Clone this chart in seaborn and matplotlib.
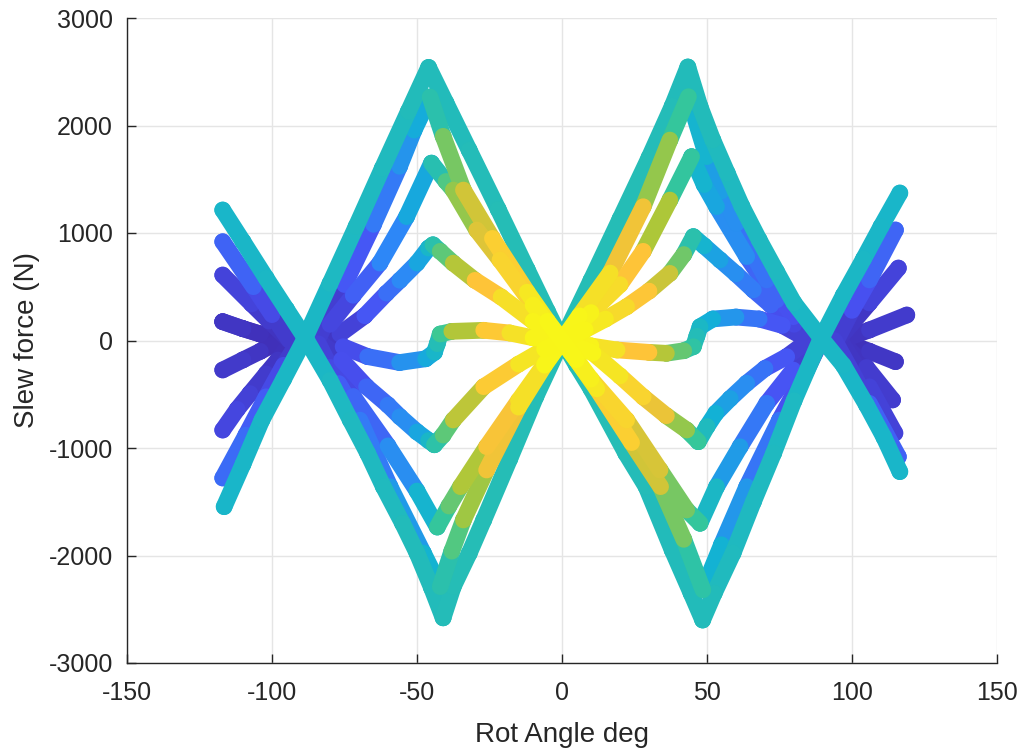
import numpy as np
import pandas as pd
import matplotlib
matplotlib.use("Agg")
import matplotlib.pyplot as plt
import seaborn as sns
from matplotlib.collections import LineCollection
from matplotlib.colors import LinearSegmentedColormap, Normalize

# ---------------- data ----------------
# outer cyan curve, positive peak on the left
cyan_up_x = [-116.5, -110, -103.5, -96, -89, -80, -71, -62, -53, -46,
             -40, -32, -22, -12, -5, 0, 5, 10, 22, 29,
             38, 44.5, 48.5, 52.5, 59, 66, 73, 80, 89, 97,
             104, 110, 116.5]
cyan_up_y = [-1546, -1150, -740, -360, 0, 530, 1060, 1600, 2130, 2540,
             2210, 1770, 1220, 660, 270, 0, -230, -450, -1050, -1360,
             -1950, -2350, -2600, -2350, -1977, -1500, -1047, -560, 0, 420,
             760, 1060, 1372]
cyan_up_c = [0.40, 0.40, 0.41, 0.41, 0.41, 0.41, 0.42, 0.42, 0.43, 0.43,
             0.43, 0.43, 0.44, 0.44, 0.44, 0.44, 0.44, 0.44, 0.44, 0.43,
             0.43, 0.43, 0.43, 0.43, 0.42, 0.42, 0.42, 0.41, 0.41, 0.41,
             0.41, 0.40, 0.40]

# outer cyan curve, negative dip on the left
cyan_dn_x = [-117, -110, -102, -95, -88, -80, -73, -67, -61.6, -55,
             -50, -45, -41, -37.5, -32, -27, -18, -9, 0, 10,
             20, 30, 38, 43.4, 47.6, 52, 57, 62, 68, 74,
             80, 90, 97, 105, 111, 116.5]
cyan_dn_y = [1214, 920, 580, 290, 0, -370, -740, -1050, -1360, -1700,
             -1977, -2300, -2580, -2290, -1980, -1670, -1100, -520, 0, 560,
             1130, 1700, 2180, 2544, 2175, 1865, 1556, 1250, 935, 640,
             349, 0, -230, -600, -900, -1220]
cyan_dn_c = [0.40, 0.40, 0.41, 0.41, 0.41, 0.41, 0.42, 0.42, 0.42, 0.43,
             0.43, 0.43, 0.43, 0.44, 0.44, 0.44, 0.44, 0.44, 0.44, 0.44,
             0.44, 0.44, 0.43, 0.43, 0.43, 0.43, 0.42, 0.42, 0.42, 0.42,
             0.41, 0.41, 0.41, 0.40, 0.40, 0.40]

# level 2 (peaks ~2250)
l2_up_x = [-117, -109, -102, -96, -91, -84, -75, -65, -56, -51,
           -45.5, -41, -34, -24, -12, -5, 0, 5, 12, 24,
           34, 42, 48.6, 55, 63.7, 75, 84.4, 89, 95, 100,
           106, 115]
l2_up_y = [-1279, -880, -523, -230, -20, 20, 520, 1080, 1620, 1957,
           2265, 1900, 1400, 950, 450, 180, 0, -180, -450, -950,
           -1360, -1850, -2320, -1900, -1360, -740, -274, -20, 20, 280,
           563, 1028]
l2_up_c = [0.2, 0.17, 0.13, 0.08, 0.04, 0.04, 0.1, 0.18, 0.26, 0.32,
           0.4, 0.52, 0.62, 0.74, 0.85, 0.95, 1.0, 0.95, 0.85, 0.74,
           0.62, 0.52, 0.42, 0.34, 0.26, 0.16, 0.08, 0.04, 0.04, 0.1,
           0.14, 0.2]

l2_dn_x = [-117, -106.4, -100, -94, -84, -77, -69.7, -59.3, -47.8, -42,
           -38, -34, -26, -15, -6, 0, 6, 16.6, 28, 37.2,
           43.6, 49.9, 55, 60.2, 70.6, 79.8, 84, 94, 106, 116]
l2_dn_y = [919, 500, 240, 0, -30, -400, -740, -1360, -1977, -2290,
           -1960, -1670, -1205, -620, -230, 0, 230, 628, 1245, 1865,
           2268, 1710, 1390, 1090, 563, 221, 30, 0, -584, -1081]
l2_dn_c = [0.2, 0.13, 0.08, 0.04, 0.04, 0.12, 0.18, 0.26, 0.35, 0.42,
           0.5, 0.56, 0.66, 0.8, 0.93, 1.0, 0.93, 0.8, 0.66, 0.54,
           0.44, 0.34, 0.3, 0.25, 0.16, 0.08, 0.05, 0.03, 0.12, 0.2]

# level 3 (peaks ~1700)
l3_up_x = [-117, -112, -107.6, -102, -98, -93, -86, -80, -72, -62.8,
           -53.6, -45, -40, -37.5, -29.4, -21.4, -10, 0, 10, 22.3,
           33.8, 43, 47.6, 53.3, 61.4, 70.6, 79.7, 85, 95, 106,
           116]
l3_up_y = [-833, -640, -493, -310, -181, 0, 10, 150, 420, 720,
           1152, 1650, 1480, 1400, 1028, 749, 330, 0, -360, -740,
           -1205, -1577, -1700, -1360, -988, -584, -274, -60, 0, 349,
           674]
l3_up_c = [0.1, 0.08, 0.07, 0.05, 0.04, 0.03, 0.03, 0.06, 0.12, 0.2,
           0.3, 0.4, 0.5, 0.55, 0.65, 0.75, 0.88, 1.0, 0.88, 0.76,
           0.62, 0.52, 0.46, 0.36, 0.26, 0.17, 0.09, 0.05, 0.03, 0.07,
           0.1]

l3_dn_x = [-117, -107, -101, -94, -86, -80, -72, -60, -50, -43,
           -39, -35, -26, -15, -6, 0, 10, 20, 28, 37.2,
           44.7, 49, 53.3, 63.7, 74, 80, 84, 96, 106, 114.8]
l3_dn_y = [609, 340, 180, 0, -20, -250, -520, -980, -1400, -1735,
           -1540, -1360, -988, -560, -220, 0, 260, 520, 830, 1307,
           1710, 1450, 1245, 780, 377, 150, 20, 0, -430, -861]
l3_dn_c = [0.1, 0.07, 0.05, 0.03, 0.03, 0.07, 0.13, 0.22, 0.32, 0.46,
           0.52, 0.58, 0.68, 0.8, 0.92, 1.0, 0.9, 0.8, 0.7, 0.55,
           0.42, 0.36, 0.32, 0.22, 0.12, 0.07, 0.04, 0.03, 0.06, 0.1]

# level 4 (peaks ~900)
l4_up_x = [-117, -110, -104, -97, -84, -76.6, -68, -60.5, -55.9, -50,
           -46, -44.5, -42, -37.5, -30, -21, -10, 0, 10.7, 20,
           28, 36, 43, 47, 50, 53, 58, 63.7, 70, 77.5,
           84, 96, 106, 118.9]
l4_up_y = [-274, -180, -100, 0, 0, 60, 230, 440, 560, 720,
           860, 890, 830, 720, 560, 405, 180, 0, -116, -330,
           -525, -700, -833, -941, -800, -677, -540, -397, -260, -150,
           -20, 0, 98, 237]
l4_up_c = [0.06, 0.05, 0.04, 0.02, 0.03, 0.06, 0.1, 0.17, 0.22, 0.3,
           0.38, 0.42, 0.5, 0.58, 0.7, 0.8, 0.92, 1.0, 0.93, 0.85,
           0.78, 0.66, 0.54, 0.45, 0.4, 0.35, 0.3, 0.24, 0.17, 0.1,
           0.05, 0.03, 0.05, 0.07]

l4_dn_x = [-117, -110, -104, -97, -84, -76, -67.4, -60, -55.9, -50,
           -46, -44, -41, -37.5, -27, -15, -6, 0, 8, 15,
           22.3, 30, 37.2, 42, 45.3, 49, 54.5, 60, 66, 72,
           77.5, 83, 96, 106, 115]
l4_dn_y = [175, 110, 60, 0, 0, -180, -430, -600, -709, -850,
           -930, -970, -880, -740, -430, -220, -80, 0, 100, 200,
           314, 460, 625, 800, 966, 880, 749, 620, 470, 330,
           221, 40, 0, -100, -197]
l4_dn_c = [0.05, 0.04, 0.03, 0.02, 0.03, 0.08, 0.15, 0.2, 0.24, 0.3,
           0.38, 0.43, 0.5, 0.58, 0.72, 0.84, 0.94, 1.0, 0.94, 0.88,
           0.8, 0.72, 0.62, 0.5, 0.42, 0.36, 0.3, 0.25, 0.2, 0.14,
           0.09, 0.05, 0.03, 0.04, 0.06]

# near-zero curve with small kinks at +/-45 deg
l5_x = [-117, -110, -104, -97, -84, -75.5, -67, -56, -47, -44,
        -43, -42, -38, -27, -18, -10, 0, 10, 19, 30,
        36, 42, 45.3, 46.5, 47.6, 52, 60, 68, 76, 84,
        96, 105, 114]
l5_y = [175, 110, 60, 0, 0, -57, -150, -205, -170, -110,
        -30, 60, 85, 95, 70, 25, 0, -50, -88, -110,
        -119, -95, -57, 40, 128, 200, 218, 200, 140, 20,
        0, -250, -553]
l5_c = [0.05, 0.04, 0.03, 0.02, 0.03, 0.07, 0.15, 0.24, 0.33, 0.38,
        0.42, 0.46, 0.55, 0.72, 0.82, 0.92, 1.0, 0.92, 0.82, 0.68,
        0.6, 0.5, 0.45, 0.42, 0.4, 0.34, 0.25, 0.17, 0.1, 0.05,
        0.03, 0.05, 0.08]

x_ticks = [-150, -100, -50, 0, 50, 100, 150]
y_ticks = [-3000, -2000, -1000, 0, 1000, 2000, 3000]

curves = [
    (cyan_up_x, cyan_up_y, cyan_up_c),
    (cyan_dn_x, cyan_dn_y, cyan_dn_c),
    (l2_up_x, l2_up_y, l2_up_c),
    (l2_dn_x, l2_dn_y, l2_dn_c),
    (l3_up_x, l3_up_y, l3_up_c),
    (l3_dn_x, l3_dn_y, l3_dn_c),
    (l4_up_x, l4_up_y, l4_up_c),
    (l4_dn_x, l4_dn_y, l4_dn_c),
    (l5_x, l5_y, l5_c),
]

# ---------------- style ----------------
parula = LinearSegmentedColormap.from_list("parula", [
    (0.000, (0.2422, 0.1504, 0.6603)),
    (0.125, (0.2810, 0.3228, 0.9579)),
    (0.250, (0.1786, 0.5289, 0.9682)),
    (0.375, (0.0689, 0.6948, 0.8394)),
    (0.500, (0.2161, 0.7843, 0.5923)),
    (0.625, (0.6720, 0.7793, 0.2227)),
    (0.750, (0.9970, 0.7659, 0.2199)),
    (0.875, (0.9598, 0.8870, 0.1502)),
    (1.000, (0.9769, 0.9839, 0.0805)),
])

sns.set_theme(style="whitegrid")
plt.rcParams["font.family"] = ["Liberation Sans", "DejaVu Sans"]
plt.rcParams["axes.unicode_minus"] = False

fig = plt.figure(figsize=(10.23, 7.49), dpi=100)
ax = fig.add_axes([127 / 1023, 86 / 749, 870 / 1023, 645 / 749])
ax.set_facecolor("white")

# keypoints via seaborn (underneath the bands)
frames = []
for i, (xs, ys, cs) in enumerate(curves):
    assert len(xs) == len(ys) == len(cs), i
    frames.append(pd.DataFrame({"angle": xs, "force": ys, "c": cs, "curve": i}))
df = pd.concat(frames, ignore_index=True)
BAND = 12.0
sns.scatterplot(data=df, x="angle", y="force", hue="c", palette=parula,
                hue_norm=(0, 1), s=BAND ** 2, linewidth=0, legend=False,
                ax=ax, zorder=2)

# bands as coloured segments, lower colour values drawn first
segs, cols = [], []
for xs, ys, cs in curves:
    for i in range(len(xs) - 1):
        segs.append([(xs[i], ys[i]), (xs[i + 1], ys[i + 1])])
        cols.append((cs[i] + cs[i + 1]) / 2)
order = np.argsort(cols, kind="stable")
lc = LineCollection([segs[i] for i in order], cmap=parula, norm=Normalize(0, 1),
                    linewidths=BAND, capstyle="round", joinstyle="round", zorder=3)
lc.set_array(np.asarray(cols)[order])
ax.add_collection(lc)

ax.set_xlim(-150, 150)
ax.set_ylim(-3000, 3000)
ax.set_xticks(x_ticks)
ax.set_yticks(y_ticks)
ax.set_xticklabels([str(v) for v in x_ticks])
ax.set_yticklabels([str(v) for v in y_ticks])

ax.grid(True, color="#e5e5e5", linewidth=1.0)
ax.set_axisbelow(True)
for side in ("top", "right"):
    ax.spines[side].set_visible(False)
for side in ("left", "bottom"):
    ax.spines[side].set_color("#262626")
    ax.spines[side].set_linewidth(1.0)
ax.tick_params(axis="both", direction="in", length=6.5, width=1.0,
               color="#262626", labelcolor="#262626", labelsize=18,
               bottom=True, left=True)
ax.tick_params(axis="x", pad=13)
ax.tick_params(axis="y", pad=10)
ax.set_xlabel("Rot Angle deg", fontsize=20, color="#262626", labelpad=12)
ax.set_ylabel("Slew force (N)", fontsize=20, color="#262626", labelpad=6)

fig.savefig("out.png", dpi=100)
